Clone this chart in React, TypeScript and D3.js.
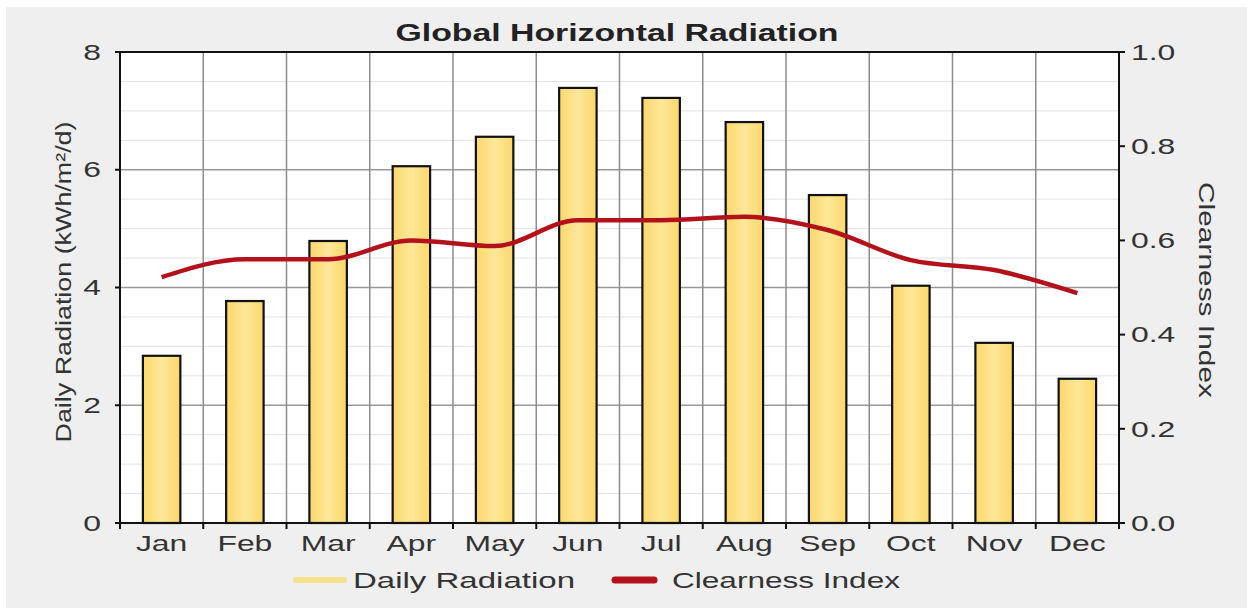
import React from "react";
import * as d3 from "d3";

const months = ["Jan", "Feb", "Mar", "Apr", "May", "Jun", "Jul", "Aug", "Sep", "Oct", "Nov", "Dec"];
const dailyRadiation = [2.84, 3.77, 4.79, 6.06, 6.56, 7.39, 7.22, 6.81, 5.57, 4.03, 3.06, 2.45];
const clearnessIndex = [0.522, 0.56, 0.56, 0.6, 0.588, 0.643, 0.643, 0.65, 0.622, 0.558, 0.537, 0.488];
const leftTicks = [0, 2, 4, 6, 8];
const rightTicks = [0, 0.2, 0.4, 0.6, 0.8, 1.0];

const W = 1247;
const H = 608;
const font = "'Liberation Sans', Arial, sans-serif";
const K = 1.45; // the source renders its text stretched wide

// text stretched horizontally around its anchor
function SText(props: { x: number; y: number; anchor?: string; size?: number; children: any }) {
  const { x, y, anchor = "middle", size = 22, children } = props;
  return (
    <text
      transform={`translate(${x},${y}) scale(${K},1)`}
      textAnchor={anchor}
      dy="0.35em"
      fontSize={size}
      fill="#333"
    >
      {children}
    </text>
  );
}

export default function App() {
  const left = 120, right = 1119, top = 52, bottom = 523;

  const x = d3.scaleBand<string>().domain(months).range([left, right]).paddingInner(0).paddingOuter(0);
  const yL = d3.scaleLinear().domain([0, 8]).range([bottom, top]);
  const yR = d3.scaleLinear().domain([0, 1]).range([bottom, top]);
  const barW = x.bandwidth() * 0.45;

  const line = d3
    .line<number>()
    .x((_, i) => (x(months[i]) as number) + x.bandwidth() / 2)
    .y((d) => yR(d))
    .curve(d3.curveMonotoneX);

  const minor = d3.range(0.5, 8, 0.5).filter((v) => v % 2 !== 0);
  const major = [2, 4, 6];
  const bounds = months.slice(1).map((m) => x(m) as number);

  return (
    <svg width={W} height={H} style={{ position: "absolute", left: 0, top: 0, display: "block" }} fontFamily={font}>
      <defs>
        <linearGradient id="barfill" x1="0" x2="1" y1="0" y2="0">
          <stop offset="0" stopColor="#fcd86a" />
          <stop offset="0.5" stopColor="#fee79a" />
          <stop offset="1" stopColor="#fcd86a" />
        </linearGradient>
      </defs>
      <rect x={0} y={0} width={W} height={H} fill="#ffffff" />
      <rect x={6} y={7} width={W - 6} height={H - 7} fill="#efefef" />
      <rect x={left} y={top} width={right - left} height={bottom - top} fill="#ffffff" />

      {/* grid */}
      {minor.map((v) => (
        <line key={"mi" + v} x1={left} x2={right} y1={yL(v)} y2={yL(v)} stroke="#e2e2e2" strokeWidth={1} />
      ))}
      {major.map((v) => (
        <line key={"ma" + v} x1={left} x2={right} y1={yL(v)} y2={yL(v)} stroke="#999" strokeWidth={1.5} />
      ))}
      {bounds.map((b, i) => (
        <line key={"v" + i} x1={b} x2={b} y1={top} y2={bottom} stroke="#8c8c8c" strokeWidth={1.5} />
      ))}

      {/* bars */}
      {dailyRadiation.map((v, i) => {
        const cx = (x(months[i]) as number) + x.bandwidth() / 2;
        return (
          <rect
            key={"b" + i}
            x={cx - barW / 2}
            y={yL(v)}
            width={barW}
            height={bottom - yL(v)}
            fill="url(#barfill)"
            stroke="#111"
            strokeWidth={2.2}
          />
        );
      })}

      {/* clearness line */}
      <path d={line(clearnessIndex) || ""} fill="none" stroke="#b3121b" strokeWidth={4.5} strokeLinejoin="round" />

      {/* frame */}
      <line x1={left} x2={right} y1={top} y2={top} stroke="#111" strokeWidth={2} />
      <line x1={left} x2={left} y1={top} y2={bottom} stroke="#111" strokeWidth={2} />
      <line x1={right} x2={right} y1={top} y2={bottom} stroke="#111" strokeWidth={2} />
      <line x1={left} x2={right} y1={bottom} y2={bottom} stroke="#111" strokeWidth={2} />

      {/* left axis */}
      {leftTicks.map((t) => (
        <g key={"lt" + t}>
          <line x1={left - 5} x2={left} y1={yL(t)} y2={yL(t)} stroke="#111" strokeWidth={2} />
          <SText x={left - 19} y={yL(t)} anchor="end">{t}</SText>
        </g>
      ))}
      {/* right axis */}
      {rightTicks.map((t) => (
        <g key={"rt" + t}>
          <line x1={right} x2={right + 6} y1={yR(t)} y2={yR(t)} stroke="#111" strokeWidth={2} />
          <SText x={right + 12} y={yR(t)} anchor="start">{t.toFixed(1)}</SText>
        </g>
      ))}
      {/* bottom axis */}
      {[left, ...bounds, right].map((b, i) => (
        <line key={"bt" + i} x1={b} x2={b} y1={bottom} y2={bottom + 6} stroke="#111" strokeWidth={2} />
      ))}
      {months.map((m) => (
        <SText key={"xl" + m} x={(x(m) as number) + x.bandwidth() / 2} y={543}>
          {m}
        </SText>
      ))}

      {/* titles */}
      <text
        x={617}
        y={33}
        dy="0.35em"
        textAnchor="middle"
        fontSize={24}
        fontWeight="bold"
        fill="#222"
        textLength={443}
        lengthAdjust="spacingAndGlyphs"
      >
        Global Horizontal Radiation
      </text>
      <text
        transform={`translate(63,282) rotate(-90)`}
        textAnchor="middle"
        dy="0.35em"
        fontSize={22}
        fill="#333"
        textLength={321}
        lengthAdjust="spacingAndGlyphs"
      >
        Daily Radiation (kWh/m²/d)
      </text>
      <text
        transform={`translate(1207,290) rotate(90)`}
        textAnchor="middle"
        dy="0.35em"
        fontSize={22}
        fill="#333"
        textLength={216}
        lengthAdjust="spacingAndGlyphs"
      >
        Clearness Index
      </text>

      {/* legend */}
      <line x1={296} x2={344} y1={580} y2={580} stroke="#f7e08a" strokeWidth={6} strokeLinecap="round" />
      <text x={353} y={580} dy="0.35em" fontSize={22} fill="#333" textLength={222} lengthAdjust="spacingAndGlyphs">
        Daily Radiation
      </text>
      <line x1={615} x2={654} y1={580} y2={580} stroke="#b3121b" strokeWidth={7} strokeLinecap="round" />
      <text x={672} y={580} dy="0.35em" fontSize={22} fill="#333" textLength={228} lengthAdjust="spacingAndGlyphs">
        Clearness Index
      </text>
    </svg>
  );
}
